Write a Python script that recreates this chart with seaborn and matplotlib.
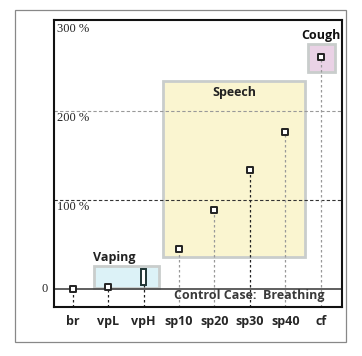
import numpy as np
import pandas as pd
import seaborn as sns
import matplotlib.pyplot as plt
from matplotlib.patches import Rectangle

# data (percent increase over breathing)
cases = ["br", "vpL", "vpH", "sp10", "sp20", "sp30", "sp40", "cf"]
values = [0, 2.5, 13, 45, 89, 133, 176, 260]
vph_range = (4, 22)
stem_colors = ["#222222", "#222222", "#222222", "#999999", "#999999", "#222222", "#999999", "#999999"]
y_ticks = [100, 200, 300]

df = pd.DataFrame({"case": cases, "value": values, "x": np.arange(len(cases))})

sns.set_style("white")
plt.rcParams["font.family"] = ["Open Sans", "DejaVu Sans"]

fig = plt.figure(figsize=(3.62, 3.56), dpi=100)
ax = fig.add_axes([54 / 362, 1 - 307 / 356, 288 / 362, 287 / 356])
ax.set_xlim(-0.53, 7.6)
ax.set_ylim(-20.5, 302)

# group boxes
boxes = [
    ("Vaping", 0.59, 2.43, 1.1, 25.8, "#dcf2f7"),
    ("Speech", 2.54, 6.55, 36, 233.7, "#faf5d0"),
    ("Cough", 6.63, 7.39, 244, 275, "#ead2e6"),
]
for name, x0, x1, y0, y1, fc in boxes:
    ax.add_patch(Rectangle((x0, y0), x1 - x0, y1 - y0, facecolor=fc,
                           edgecolor="#c9cdcc", lw=2, zorder=1))
ax.text(0.56, 28, "Vaping", fontsize=9, fontweight="bold", color="#222222",
        ha="left", va="bottom")
ax.text(4.55, 221, "Speech", fontsize=9, fontweight="bold", color="#222222",
        ha="center", va="center")
ax.text(7.56, 277, "Cough", fontsize=9, fontweight="bold", color="#111111",
        ha="right", va="bottom")

# grid lines
ax.axhline(200, color="#999999", ls=(0, (3, 2)), lw=0.8, zorder=2)
ax.axhline(100, color="#333333", ls=(0, (3, 2)), lw=0.8, zorder=2)
ax.axhline(0, color="#444444", lw=1.2, zorder=2)

# stems down to the axis
for i, v in enumerate(values):
    ax.vlines(i, -20.5, v, colors=stem_colors[i], ls=(0, (2, 2)), lw=0.9, zorder=2)

pts = df[df["case"] != "vpH"]
sns.scatterplot(data=pts, x="x", y="value", marker="s", s=22, color="white",
                edgecolor="#222222", linewidth=1.4, zorder=5, ax=ax, legend=False)
ax.add_patch(Rectangle((2 - 0.07, vph_range[0]), 0.14, vph_range[1] - vph_range[0],
                       facecolor="white", edgecolor="#1f3535", lw=1.4, zorder=5))

ax.text(7.12, -8, "Control Case:  Breathing", fontsize=9, fontweight="bold",
        color="#3a3a3a", ha="right", va="center", zorder=6)

# y labels (serif, just under each line)
for t in y_ticks:
    ax.text(-0.45, t - 1.5, f"{t} %", family=["Liberation Serif"], fontsize=9,
            ha="left", va="top", zorder=6)
ax.text(-0.7, 0, "0", family=["Liberation Serif"], fontsize=9,
        ha="right", va="center")

ax.set_xticks(df["x"])
ax.set_xticklabels(cases, fontsize=9, fontweight="bold")
ax.set_yticks([])
ax.tick_params(axis="x", length=0, pad=6)
ax.set_xlabel("")
ax.set_ylabel("")
for sp in ax.spines.values():
    sp.set_color("#111111")
    sp.set_linewidth(1.5)

fig.patches.append(Rectangle((15 / 362, 1 - 342 / 356), 331 / 362, 332 / 356,
                             transform=fig.transFigure, fill=False,
                             edgecolor="#888888", lw=0.9))

fig.savefig("out.png", dpi=100)
